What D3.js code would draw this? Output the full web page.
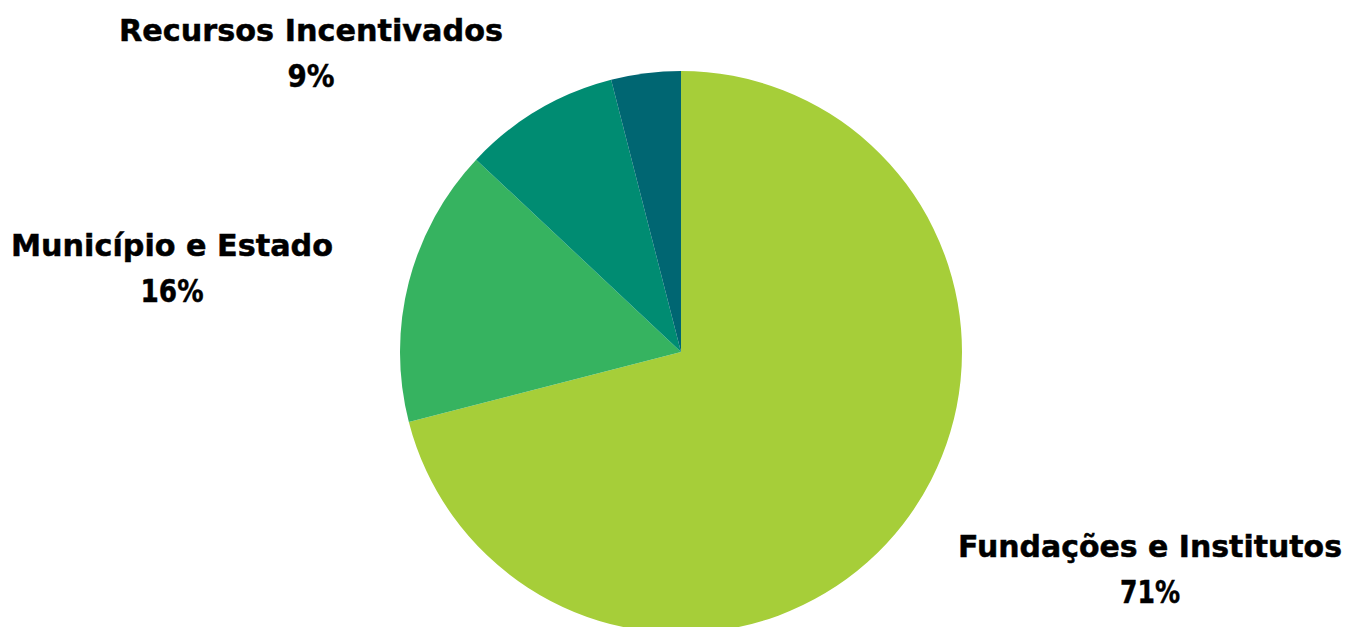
<!DOCTYPE html>
<html>
<head>
<meta charset="utf-8">
<script src="https://cdn.jsdelivr.net/npm/d3@7"></script>
<style>
  html, body { margin: 0; padding: 0; background: #ffffff; }
  svg text { font-family: "DejaVu Sans", sans-serif; font-weight: bold; fill: #000; stroke: #000; stroke-width: 0.5px; }
</style>
</head>
<body>
<div id="pie-container"></div>
<script>
const categories = ["Fundações e Institutos", "Município e Estado", "Recursos Incentivados", "Outros"];
const values = [71, 16, 9, 4];
const pctLabels = ["71%", "16%", "9%", ""];
const colors = ["#a6ce39", "#36b360", "#008c72", "#006672"];

const width = 1350, height = 627;
const cx = 681, cy = 352, outerRadius = 281;

// label anchor spots (center x, first baseline) and target widths
const labelSpots = [
  { x: 1150, y: 557, w: 384, pw: 60 },
  { x: 172, y: 256, w: 322, pw: 63 },
  { x: 311, y: 41, w: 384, pw: 47 },
  null
];

const svg = d3.select("#pie-container")
  .append("svg")
  .attr("width", width)
  .attr("height", height);

const g = svg.append("g")
  .attr("transform", "translate(" + cx + "," + cy + ")");

const arcGenerator = d3.arc()
  .innerRadius(0)
  .outerRadius(outerRadius);

const pieGenerator = d3.pie()
  .sort(null)
  .value((d) => d);

g.selectAll("path")
  .data(pieGenerator(values))
  .enter()
  .append("path")
  .attr("d", arcGenerator)
  .style("fill", (_, i) => colors[i]);

categories.forEach((name, i) => {
  const spot = labelSpots[i];
  if (!spot) return;
  svg.append("text")
    .attr("x", spot.x)
    .attr("y", spot.y)
    .attr("text-anchor", "middle")
    .attr("font-size", 31)
    .attr("textLength", spot.w)
    .attr("lengthAdjust", "spacingAndGlyphs")
    .text(name);
  svg.append("text")
    .attr("x", spot.x)
    .attr("y", spot.y + 46)
    .attr("text-anchor", "middle")
    .attr("font-size", 32)
    .attr("textLength", spot.pw)
    .attr("lengthAdjust", "spacingAndGlyphs")
    .text(pctLabels[i]);
});
</script>
</body>
</html>
